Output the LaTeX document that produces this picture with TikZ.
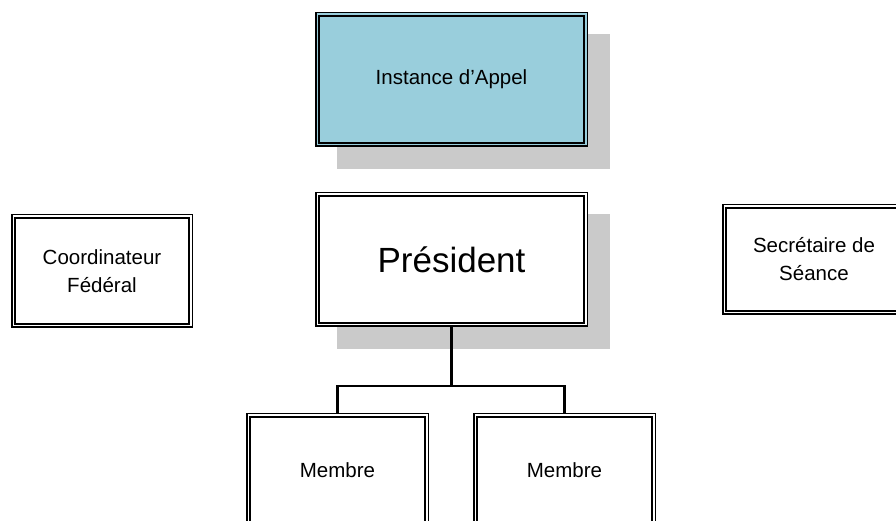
\documentclass[tikz,border=0pt]{standalone}
\usepackage{fontspec}
\setmainfont{Liberation Sans}
\usepackage{tikz}
\usetikzlibrary{positioning, backgrounds, calc}
\usepackage{xcolor}
\definecolor{AppelBlue}{HTML}{99CEDC}
\definecolor{ShadowGray}{HTML}{CACACA}
\tikzset{
    box/.style={draw=black, line width=1.5pt, double=white, double distance=1.8pt, fill=white, outer sep=2.4pt, inner sep=0pt, align=center, font=\fontsize{20.5}{28}\selectfont, minimum width=177.2pt, minimum height=109.2pt},
    bigbox/.style={box, minimum width=268.2pt, minimum height=130.2pt},
    appelbox/.style={bigbox, fill=AppelBlue, double=AppelBlue},
    wire/.style={draw=black, line width=2.6pt}
}

\begin{document}
\begin{tikzpicture}[x=1pt, y=1pt]
    \useasboundingbox (0,0) rectangle (896,521);
    \clip (0,0) rectangle (896,521);

    % Central column
    \node[bigbox, font=\fontsize{35}{40}\selectfont] (president) at (451.5,261.5) {Président};
    \node[appelbox, above=45pt of president] (appel) {Instance d'Appel};

    % Side boxes
    \node[box, left=122pt of president, yshift=-11.5pt] (coord) {Coordinateur\\Fédéral};
    \node[box, right=134pt of president, minimum width=179.2pt, minimum height=106.2pt] (secretaire) {Secrétaire de\\Séance};

    % Members
    \node[box, minimum width=178.2pt, below=86pt of president, xshift=-114pt] (membreA) {Membre};
    \node[box, minimum width=178.2pt, below=86pt of president, xshift=113pt] (membreB) {Membre};

    % Shadows behind the central column
    \begin{scope}[on background layer]
        \foreach \n in {appel, president}
            \fill[ShadowGray] ([shift={(22pt,-22pt)}]\n.south west) rectangle ([shift={(22pt,-22pt)}]\n.north east);
    \end{scope}

    % Edges
    \draw[wire] (president.south) -- ++(0,-59pt) -| (membreA.north);
    \draw[wire] (president.south) -- ++(0,-59pt) -| (membreB.north);
\end{tikzpicture}
\end{document}
